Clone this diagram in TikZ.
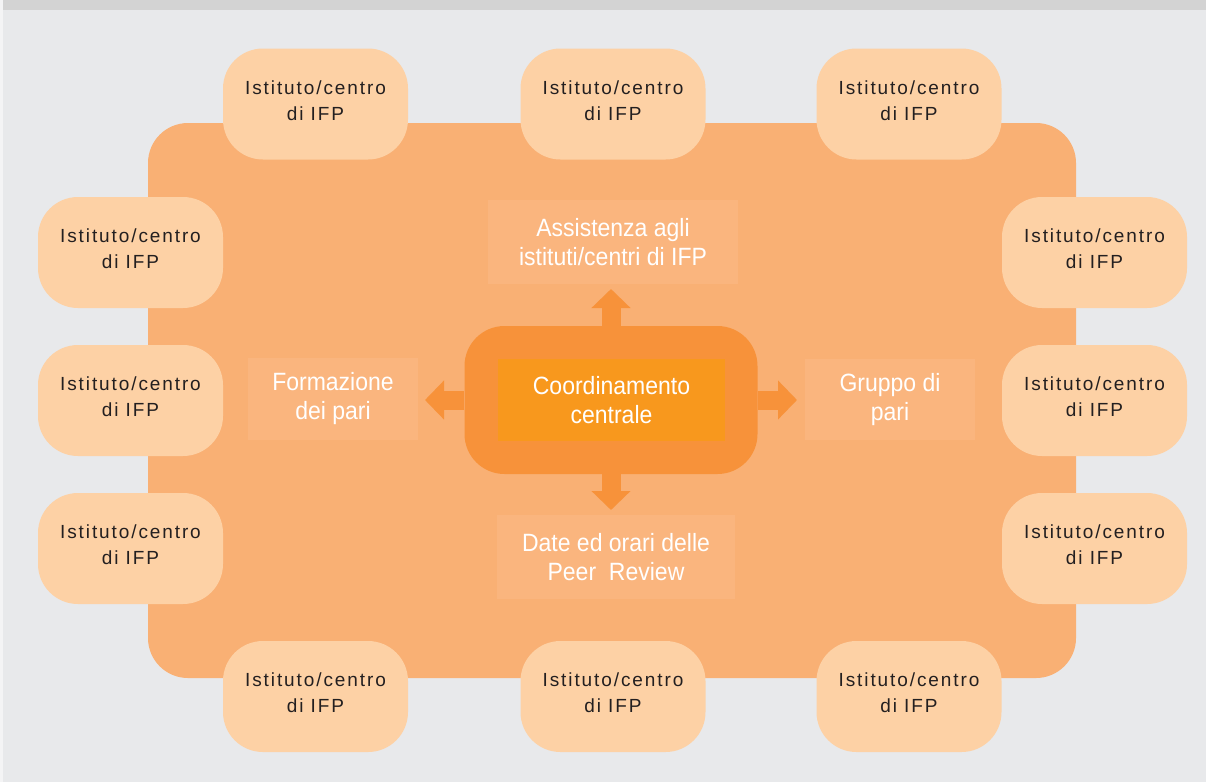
\documentclass[tikz,border=0pt]{standalone}
\usepackage{fontspec}
\setmainfont{Liberation Sans}
\newfontfamily\labelfont[FakeStretch=0.92]{Liberation Sans}
\newfontfamily\ifpfont[LetterSpace=10]{Liberation Sans}
\usetikzlibrary{arrows.meta}

\definecolor{bg}{RGB}{232,233,235}
\definecolor{topbar}{RGB}{211,211,211}
\definecolor{edgestrip}{RGB}{244,244,245}
\definecolor{board}{RGB}{249,176,116}
\definecolor{labbox}{RGB}{250,181,126}
\definecolor{peach}{RGB}{253,209,165}
\definecolor{hubc}{RGB}{247,146,58}
\definecolor{corec}{RGB}{248,152,29}
\definecolor{ink}{RGB}{35,31,32}

\tikzset{
  platform/.style={rectangle, rounded corners=40pt, fill=board, inner sep=0pt,
    minimum width=928pt, minimum height=555pt},
  ifptext/.style={font=\ifpfont\fontsize{19}{26}\selectfont, text=ink,
    align=center, inner sep=0pt},
  ifp/.style={rectangle, rounded corners=40pt, fill=peach, inner sep=0pt,
    minimum width=185pt, minimum height=111pt,
    label={[ifptext, yshift=3.5pt]center:{Istituto/centro\\di IFP}}},
  labelbox/.style={rectangle, fill=labbox, inner sep=0pt, text=white,
    font=\labelfont\fontsize{25}{29}\selectfont, align=center},
  hub/.style={rectangle, rounded corners=40pt, fill=hubc, inner sep=0pt,
    minimum width=293pt, minimum height=148pt},
  core/.style={rectangle, fill=corec, inner sep=0pt, text=white,
    minimum width=227pt, minimum height=82pt,
    font=\labelfont\fontsize{25}{29}\selectfont, align=center},
  spoke/.style={draw=hubc, line width=19pt,
    -{Triangle[width=38pt,length=19pt]}}
}

\begin{document}
\begin{tikzpicture}[x=1pt,y=-1pt]
  \useasboundingbox (0,0) rectangle (1206,782);
  % page background and header band
  \fill[bg] (0,0) rectangle (1206,782);
  \fill[topbar] (0,0) rectangle (1206,10);
  \fill[edgestrip] (0,0) rectangle (3,782);

  % large orange platform
  \node[platform] (board) at (612,400.5) {};

  % surrounding VET providers
  \node[ifp] (n1) at (315.5,104) {};
  \node[ifp] (n2) at (613,104) {};
  \node[ifp] (n3) at (909,104) {};
  \node[ifp] (w1) at (130.5,252.5) {};
  \node[ifp] (w2) at (130.5,400.5) {};
  \node[ifp] (w3) at (130.5,548.5) {};
  \node[ifp] (e1) at (1094.5,252.5) {};
  \node[ifp] (e2) at (1094.5,400.5) {};
  \node[ifp] (e3) at (1094.5,548.5) {};
  \node[ifp] (s1) at (315.5,696.5) {};
  \node[ifp] (s2) at (613,696.5) {};
  \node[ifp] (s3) at (909,696.5) {};

  % task labels
  \node[labelbox, minimum width=250pt, minimum height=84pt] (assist) at (613,242)
    {Assistenza agli\\istituti/centri di IFP};
  \node[labelbox, minimum width=238pt, minimum height=84pt] (dates) at (616,557)
    {Date ed orari delle\\Peer~ Review};
  \node[labelbox, minimum width=170pt, minimum height=82pt] (training) at (333,399)
    {Formazione\\dei pari};
  \node[labelbox, minimum width=170pt, minimum height=81pt] (group) at (890,399.5)
    {Gruppo di\\pari};

  % central coordination
  \node[hub] (ctr) at (611,400) {};
  \node[core] (core) at (611.5,400) {Coordinamento\\centrale};

  % arrows from the centre towards the tasks
  \coordinate (tipN) at (611,289);
  \coordinate (tipS) at (611,510);
  \coordinate (tipW) at (425,400);
  \coordinate (tipE) at (797,400);
  \draw[spoke] (ctr.north) -- (tipN);
  \draw[spoke] (ctr.south) -- (tipS);
  \draw[spoke] (ctr.west) -- (tipW);
  \draw[spoke] (ctr.east) -- (tipE);
\end{tikzpicture}
\end{document}
